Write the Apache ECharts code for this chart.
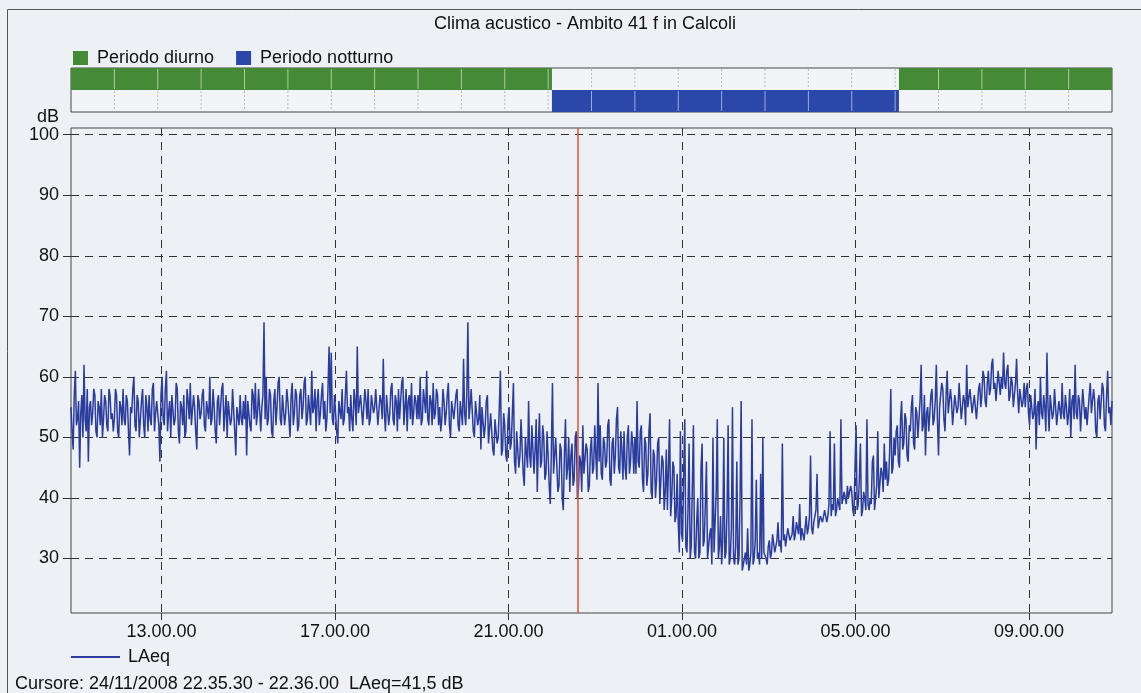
<!DOCTYPE html>
<html>
<head>
<meta charset="utf-8">
<title>Clima acustico - Ambito 41 f in Calcoli</title>
<script src="https://cdn.jsdelivr.net/npm/echarts@6.0.0/dist/echarts.min.js"></script>
<style>
    html, body { margin: 0; padding: 0; background: #edf0f5; }
    #chart { width: 1141px; height: 693px; }
</style>
</head>
<body>
<div id="chart"></div>
<script>
// misura: 24/11/2008 10.54.44 -> 25/11/2008 10.54.44, ore dalla mezzanotte
const startHour = 10.912
const endHour = 34.912
const stepHour = 0.025 // 90 secondi
const cursorHour = 22.5917

const periodRows = ['Periodo diurno', 'Periodo notturno']
const dayPeriods = [[10.912, 22], [30, 34.912]]
const nightPeriods = [[22, 30]]

const timeTicks = [13, 17, 21, 25, 29, 33]
const dbTicks = [30, 40, 50, 60, 70, 80, 90, 100]

// LAeq in dB, una riga per ora (40 campioni da 90 secondi)
const laeq = [
    55,51, 48,57, 61,52, 53,56, 45,54, 57,50, 62,53, 51,58, 46,55, 56,52, 54,58, 57,51, 50,56, 55,52, 58,50, 53,57, 56,52, 51,58, 57,53, 54,51,
    53,58, 57,51, 50,56, 55,52, 58,53, 52,57, 56,51, 47,55, 54,58, 60,52, 51,57, 56,50, 53,56, 58,52, 50,57, 55,51, 57,53, 52,58, 59,51, 54,56,
    56,52, 46,57, 60,53, 52,58, 61,51, 54,56, 50,57, 57,52, 53,59, 58,51, 49,56, 55,52, 57,50, 51,58, 56,53, 59,52, 52,57, 55,51, 48,57, 56,53,
    54,57, 58,52, 51,56, 56,53, 60,52, 53,58, 55,51, 49,56, 57,52, 52,58, 59,51, 54,57, 50,56, 56,52, 53,58, 58,51, 47,55, 55,52, 57,53, 52,56,
    53,57, 47,56, 56,52, 51,58, 57,53, 59,52, 54,58, 58,51, 55,57, 69,53, 60,52, 53,58, 57,51, 50,56, 58,52, 55,59, 60,53, 52,57, 57,52, 54,58,
    56,53, 50,57, 59,52, 54,58, 57,51, 52,57, 58,53, 55,59, 60,52, 53,57, 57,52, 61,54, 55,58, 51,56, 58,52, 54,57, 59,53, 56,51, 53,58, 65,54,
    64,53, 52,57, 57,51, 49,56, 56,53, 58,52, 53,57, 61,54, 55,51, 57,53, 51,58, 56,52, 65,54, 54,57, 57,52, 52,58, 56,53, 58,52, 53,57, 57,54,
    55,58, 58,52, 52,57, 56,53, 63,54, 51,57, 57,52, 54,58, 59,53, 52,57, 56,51, 58,53, 53,59, 60,52, 55,58, 51,56, 57,53, 59,52, 54,57, 56,53,
    57,53, 60,52, 53,58, 58,54, 61,53, 52,57, 56,52, 59,53, 54,58, 57,52, 55,51, 53,58, 56,52, 54,57, 59,52, 50,56, 56,53, 53,57, 58,52, 51,56,
    56,52, 63,54, 52,57, 69,53, 55,58, 58,51, 50,56, 56,52, 53,57, 48,55, 55,50, 52,56, 57,49, 49,54, 54,48, 47,53, 53,49, 50,55, 61,47, 48,54,
    52,47, 46,53, 55,48, 49,54, 59,46, 44,51, 51,45, 47,53, 53,44, 42,50, 50,45, 56,47, 45,52, 52,44, 48,53, 41,49, 54,45, 46,52, 50,43, 44,51,
    47,42, 39,48, 59,44, 44,50, 50,41, 42,49, 48,40, 38,47, 53,43, 45,50, 41,47, 49,42, 43,50, 51,40, 41.5,47, 46,41, 52,44, 44,49, 48,41, 42,48,
    50,44, 45,52, 47,43, 59,46, 52,44, 43,50, 49,45, 46,52, 53,43, 42,49, 50,44, 47,53, 55,45, 44,51, 48,43, 51,45, 43,50, 52,44, 46,51, 49,44,
    50,44, 56,46, 45,51, 52,43, 41,50, 49,42, 44,51, 54,41, 40,48, 47,40, 43,49, 50,39, 39,47, 46,38, 41,48, 38,45, 53,37, 40,46, 45,36, 37,44,
    36,31, 51,34, 33,44, 53,32, 31,38, 49,30, 32,42, 52,31, 30,36, 40,30, 31,45, 49,32, 33,39, 46,30, 30,34, 35,29, 50,31, 31,41, 53,30, 32,37,
    29,33, 50,30, 31,38, 52,29, 30,35, 55,30, 29,32, 46,29, 30,40, 56,28, 28,30, 31,29, 35,28, 29,31, 53,29, 30,33, 43,30, 31,29, 44,30, 50,31,
    31,30, 29,32, 33,30, 31,34, 34,31, 32,33, 36,32, 33,31, 49,33, 34,32, 32,35, 35,33, 33,34, 37,33, 34,36, 36,34, 39,33, 35,34, 33,35, 37,34,
    35,37, 47,35, 34,36, 36,38, 44,35, 35,37, 37,36, 36,38, 38,36, 37,39, 51,37, 39,38, 49,37, 38,40, 40,38, 53,39, 39,41, 41,39, 42,40, 40,42,
    41,38, 37,45, 52,38, 39,43, 49,37, 38,41, 40,38, 53,39, 38,40, 39,46, 47,38, 38,42, 51,40, 40,45, 44,41, 49,43, 46,42, 43,48, 58,44, 45,50,
    47,51, 52,46, 45,53, 56,48, 49,54, 53,47, 46,52, 51,55, 57,49, 48,55, 54,50, 50,56, 62,51, 52,57, 47,54, 55,51, 51,57, 58,52, 53,56, 62,53,
    47,55, 55,59, 58,53, 51,57, 61,54, 54,58, 56,52, 52,57, 57,54, 55,59, 59,53, 53,57, 56,52, 62,55, 55,58, 58,54, 54,57, 57,53, 53,58, 59,55,
    57,61, 60,56, 55,59, 61,57, 58,62, 63,58, 59,56, 56,61, 61,57, 60,58, 64,59, 58,61, 62,56, 57,60, 59,55, 55,59, 63,57, 54,58, 58,55, 56,59,
    55,58, 59,54, 52,57, 57,53, 54,58, 48,55, 56,52, 60,54, 53,57, 55,51, 64,55, 51,57, 57,53, 54,58, 58,52, 52,56, 56,53, 59,54, 53,57, 55,52,
    54,58, 50,56, 57,53, 62,54, 53,57, 56,51, 51,58, 58,53, 55,52, 52,57, 59,54, 54,58, 56,51, 50,56, 57,53, 53,59, 58,52, 51,57, 61,54, 55,52,
    56
]

const FONT = 'Liberation Sans, Arial, sans-serif'
const GREEN = '#458a36'
const BLUE = '#2a47aa'
const LINE = '#2a3c9e'

// separatori orari della fascia periodi
const hourMarks = []
for (let h = startHour + 1; h < endHour; h += 1) {
    hourMarks.push([h, 0])
}

function inPeriod(t, row) {
    const spans = row === 0 ? dayPeriods : nightPeriods
    return spans.some(p => t > p[0] && t < p[1])
}

function renderPeriod(params, api) {
    const row = api.value(2)
    const p0 = api.coord([api.value(0), row])
    const p1 = api.coord([api.value(1), row])
    const h = api.size([0, 1])[1]
    return {
        type: 'rect',
        shape: { x: p0[0], y: p0[1] - h / 2, width: p1[0] - p0[0], height: h },
        style: { fill: api.visual('color') },
    }
}

function renderHourMark(params, api) {
    const t = api.value(0)
    const h = api.size([0, 1])[1]
    return {
        type: 'group',
        children: [0, 1].map(row => {
            const p = api.coord([t, row])
            const filled = inPeriod(t, row)
            return {
                type: 'line',
                shape: { x1: p[0], y1: p[1] - h / 2 + 1, x2: p[0], y2: p[1] + h / 2 - 1 },
                style: filled
                    ? { stroke: 'rgba(255,255,255,0.55)', lineWidth: 1 }
                    : { stroke: '#b4b8c0', lineWidth: 1, lineDash: [2, 2] },
            }
        }),
    }
}

const dashed = { color: '#333', width: 1, type: [8, 6] }

const option = {
    backgroundColor: '#edf0f5',
    animation: false,
    textStyle: { fontFamily: FONT, color: '#111' },
    title: [
        {
            text: 'Clima acustico - Ambito 41 f in Calcoli',
            left: 580,
            top: 10,
            textAlign: 'center',
            textStyle: { fontFamily: FONT, fontSize: 18, fontWeight: 'normal', color: '#111' },
        },
        {
            text: 'Cursore: 24/11/2008 22.35.30 - 22.36.00  LAeq=41,5 dB',
            left: 10,
            top: 670,
            textStyle: { fontFamily: FONT, fontSize: 18, fontWeight: 'normal', color: '#111' },
        },
    ],
    legend: [
        {
            data: periodRows,
            left: 73,
            top: 49,
            icon: 'rect',
            itemWidth: 15,
            itemHeight: 14,
            itemGap: 22,
            padding: 0,
            selectedMode: false,
            textStyle: { fontFamily: FONT, fontSize: 18, color: '#111', padding: [0, 0, 0, 4] },
        },
        {
            data: [{ name: 'LAeq', icon: 'rect' }],
            left: 71,
            top: 648,
            itemWidth: 49,
            itemHeight: 2,
            padding: 0,
            selectedMode: false,
            textStyle: { fontFamily: FONT, fontSize: 18, color: '#111', padding: [0, 0, 0, 3] },
        },
    ],
    graphic: [
        {
            type: 'rect',
            silent: true,
            z: -10,
            shape: { x: 7.5, y: 9.5, width: 1300, height: 800 },
            style: { fill: 'none', stroke: '#555', lineWidth: 1 },
        },
    ],
    grid: [
        {
            left: 71,
            right: 29,
            top: 68,
            height: 44,
            show: true,
            borderColor: '#444',
            borderWidth: 1,
            backgroundColor: '#f2f4f8',
        },
        {
            left: 71,
            right: 29,
            top: 128,
            bottom: 80,
            show: true,
            borderColor: '#444',
            borderWidth: 1,
            backgroundColor: 'transparent',
        },
    ],
    xAxis: [
        {
            gridIndex: 0,
            type: 'value',
            min: startHour,
            max: endHour,
            show: false,
        },
        {
            gridIndex: 1,
            type: 'value',
            min: startHour,
            max: endHour,
            axisLine: { show: false },
            axisTick: {
                show: true,
                length: 7,
                customValues: timeTicks,
                lineStyle: { color: '#333' },
            },
            axisLabel: {
                customValues: timeTicks,
                margin: 10,
                fontFamily: FONT,
                fontSize: 18,
                color: '#111',
                formatter: function (value) {
                    return String(value % 24).padStart(2, '0') + '.00.00'
                },
            },
            splitLine: { show: true, lineStyle: dashed },
        },
        {
            gridIndex: 1,
            type: 'value',
            position: 'top',
            min: startHour,
            max: endHour,
            axisLine: { show: false },
            axisTick: {
                show: true,
                inside: true,
                length: 7,
                customValues: timeTicks,
                lineStyle: { color: '#333' },
            },
            axisLabel: { show: false },
            splitLine: { show: false },
        },
    ],
    yAxis: [
        {
            gridIndex: 0,
            type: 'category',
            data: periodRows,
            inverse: true,
            show: false,
        },
        {
            gridIndex: 1,
            type: 'value',
            min: 21,
            max: 101.1,
            name: 'dB',
            nameLocation: 'end',
            nameGap: 10,
            nameTextStyle: {
                fontFamily: FONT,
                fontSize: 18,
                color: '#111',
                align: 'right',
                verticalAlign: 'middle',
                padding: [0, 12, 0, 0],
            },
            axisLine: { show: false },
            axisTick: {
                show: true,
                length: 8,
                customValues: dbTicks,
                lineStyle: { color: '#333' },
            },
            axisLabel: {
                customValues: dbTicks,
                margin: 12,
                fontFamily: FONT,
                fontSize: 18,
                color: '#111',
            },
            splitLine: { show: true, lineStyle: dashed },
        },
    ],
}

const series = [
    {
        name: 'Periodo diurno',
        type: 'custom',
        xAxisIndex: 0,
        yAxisIndex: 0,
        renderItem: renderPeriod,
        itemStyle: { color: GREEN },
        encode: { x: [0, 1], y: 2 },
        data: dayPeriods.map(p => [p[0], p[1], 0]),
        silent: true,
    },
    {
        name: 'Periodo notturno',
        type: 'custom',
        xAxisIndex: 0,
        yAxisIndex: 0,
        renderItem: renderPeriod,
        itemStyle: { color: BLUE },
        encode: { x: [0, 1], y: 2 },
        data: nightPeriods.map(p => [p[0], p[1], 1]),
        silent: true,
    },
    {
        name: 'ore',
        type: 'custom',
        xAxisIndex: 0,
        yAxisIndex: 0,
        renderItem: renderHourMark,
        encode: { x: 0, y: 1 },
        data: hourMarks,
        silent: true,
        z: 3,
    },
    {
        name: 'LAeq',
        type: 'line',
        xAxisIndex: 1,
        yAxisIndex: 1,
        symbol: 'none',
        showSymbol: false,
        data: laeq.map((v, i) => [startHour + i * stepHour, v]),
        itemStyle: { color: LINE },
        lineStyle: { color: LINE, width: 1.5 },
        z: 3,
        markLine: {
            silent: true,
            symbol: ['none', 'none'],
            label: { show: false },
            lineStyle: { color: '#e2562c', width: 1.5, type: 'solid' },
            data: [{ xAxis: cursorHour }],
        },
    },
]
option.series = series

const chart = echarts.init(document.getElementById('chart'), null, { renderer: 'canvas' })
chart.setOption(option)
</script>
</body>
</html>
